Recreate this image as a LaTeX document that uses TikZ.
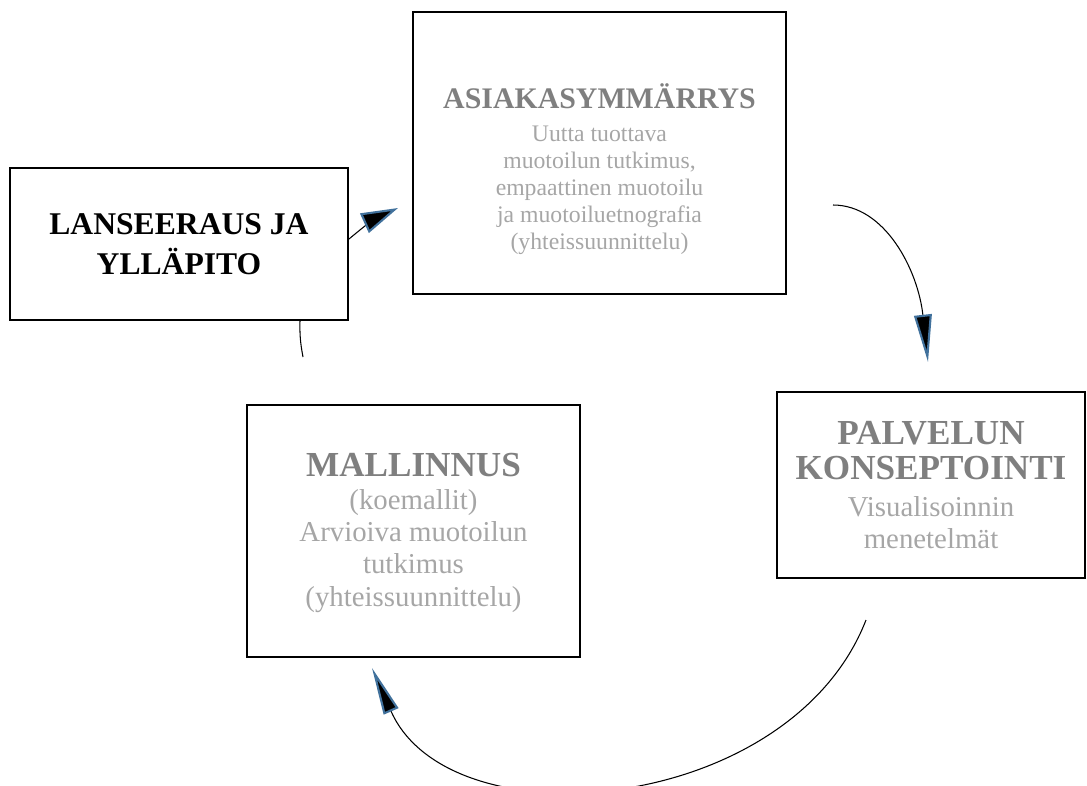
\documentclass[tikz,border=0pt]{standalone}
\usepackage{fontspec}
\setmainfont{Liberation Serif}
\usetikzlibrary{arrows.meta}
\definecolor{otsikko}{HTML}{7F7F7F}
\definecolor{leipa}{HTML}{A6A6A6}
\definecolor{karki}{HTML}{41719C}
\newcommand{\otsikkofont}{\color{otsikko}\bfseries\fontsize{17}{15.3}\selectfont}
\newcommand{\isootsikko}{\color{otsikko}\bfseries\fontsize{20}{18.4}\selectfont}
\tikzset{
  laatikko/.style={draw, line width=1.2pt, inner sep=0pt},
  teksti/.style={align=center, text=leipa, font=\fontsize{13.5}{15.3}\selectfont},
  isoteksti/.style={align=center, text=leipa, font=\fontsize{16.4}{18.4}\selectfont},
  nuoli/.style 2 args={line width=0.6pt,
    -{Triangle[length=#1, width=#2, fill=black, color=karki, line width=1.2pt]}}
}
\begin{document}
\begin{tikzpicture}[x=0.02cm, y=-0.02cm]
  \useasboundingbox (0,0) rectangle (1087,785);
  % laatikot
  \node[laatikko, minimum width=6.76cm, minimum height=3.04cm] (lanseeraus) at (179,244) {};
  \node[laatikko, minimum width=7.46cm, minimum height=5.64cm] (asiakas) at (599.5,153) {};
  \node[laatikko, minimum width=6.16cm, minimum height=3.72cm] (palvelun) at (931,485) {};
  \node[laatikko, minimum width=6.66cm, minimum height=5.04cm] (mallinnus) at (413.5,531) {};
  % tekstit
  \node[align=center, font=\bfseries\fontsize{18}{22.7}\selectfont] (lanseerausTeksti)
    at (lanseeraus) {LANSEERAUS JA\\YLLÄPITO};
  \node[teksti] (asiakasTeksti) at ([yshift=-0.32cm]asiakas.center)
    {{\otsikkofont ASIAKASYMMÄRRYS}\\[3.4pt]Uutta tuottava\\muotoilun tutkimus,\\%
     empaattinen muotoilu\\ja muotoiluetnografia\\(yhteissuunnittelu)};
  \node[isoteksti] (palvelunTeksti) at (palvelun)
    {{\isootsikko PALVELUN}\\[1.5pt]{\isootsikko KONSEPTOINTI}\\[2.5pt]%
     Visualisoinnin\\menetelmät};
  \node[isoteksti] (mallinnusTeksti) at ([yshift=-0.04cm]mallinnus.center)
    {{\isootsikko MALLINNUS}\\(koemallit)\\Arvioiva muotoilun\\%
     tutkimus\\(yhteissuunnittelu)};
  % nuolet
  \coordinate (k1loppu) at (398,208);
  \coordinate (k2alku) at (833,205);
  \coordinate (k2loppu) at (928,362);
  \coordinate (k3alku) at (866,620);
  \coordinate (k3loppu) at (372,668);
  \coordinate (k4alku) at (303,357);
  \draw[nuoli={21pt}{12pt}] ([yshift=0.1cm]lanseeraus.east) to[bend left=8] (k1loppu);
  \draw[nuoli={27pt}{10pt}] (k2alku) .. controls (885,205) and (918,270) .. (k2loppu);
  \draw[nuoli={27pt}{9pt}] (k3alku) .. controls (790,815) and (450,845) .. (k3loppu);
  \draw[line width=0.6pt] (k4alku) to[bend left=6] ([xshift=2.42cm]lanseeraus.south);
\end{tikzpicture}
\end{document}
